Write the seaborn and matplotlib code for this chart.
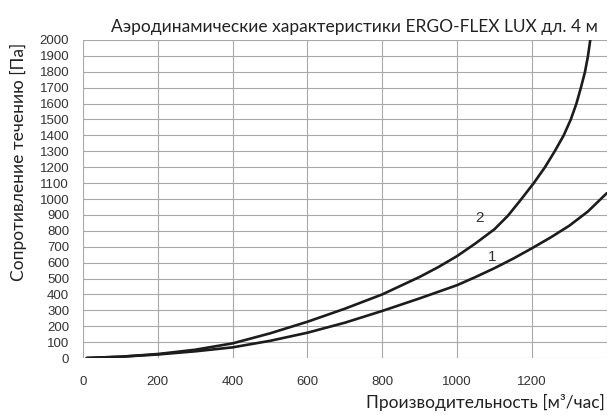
import pandas as pd
import seaborn as sns
import matplotlib.pyplot as plt

# кривая 1
flow_1 = [10, 100, 200, 300, 400, 500, 600, 700, 800, 900, 1000, 1050, 1100, 1150, 1200,
          1250, 1300, 1350, 1400]
res_1 = [0, 8, 22, 42, 67, 108, 159, 222, 296, 375, 458, 510, 565, 625, 690,
         758, 832, 922, 1036]

# кривая 2
flow_2 = [10, 100, 200, 300, 400, 500, 600, 700, 800, 900, 950, 1000, 1050, 1100, 1136,
          1172, 1205, 1235, 1261, 1285, 1304, 1319, 1331, 1342, 1350, 1356, 1362]
res_2 = [0, 8, 25, 52, 92, 155, 228, 310, 400, 510, 572, 641, 722, 810, 895,
         1000, 1100, 1200, 1300, 1400, 1500, 1600, 1700, 1800, 1900, 2000, 2120]

x_ticks = [0, 200, 400, 600, 800, 1000, 1200, 1400]
x_labels = ['0', '200', '400', '600', '800', '1000', '1200', '']
y_ticks = list(range(0, 2001, 100))

df = pd.concat([
    pd.DataFrame({'flow': flow_1, 'res': res_1, 'curve': '1'}),
    pd.DataFrame({'flow': flow_2, 'res': res_2, 'curve': '2'}),
])

sns.set_style('whitegrid')
plt.rcParams['font.family'] = ['Liberation Sans', 'DejaVu Sans']

fig = plt.figure(figsize=(6.07, 4.15), dpi=100)
ax = fig.add_axes([83 / 607, 57 / 415, 523.7 / 607, 318 / 415])

sns.lineplot(data=df, x='flow', y='res', units='curve', estimator=None,
             color='#1c1c1c', linewidth=1.9, ax=ax)
for ln in ax.lines:
    ln.set_solid_joinstyle('round')

ax.set_xlim(0, 1400)
ax.set_ylim(0, 2000)
ax.set_xticks(x_ticks)
ax.set_xticklabels(x_labels)
ax.set_yticks(y_ticks)
ax.grid(True, color='#a8a8a8', linewidth=0.8)
for s in ax.spines.values():
    s.set_visible(False)
ax.tick_params(axis='both', length=3, width=0.8, color='#a8a8a8',
               labelsize=9.5, labelcolor='#333333')
ax.tick_params(axis='y', pad=7)
ax.tick_params(axis='x', pad=10)
ax.set_xlabel('')
ax.set_ylabel('')

ax.text(1060, 880, '2', fontsize=11, color='#333333', ha='center', va='center')
ax.text(1095, 635, '1', fontsize=11, color='#333333', ha='center', va='center')

fig.text(598 / 607, 1 - 27 / 415, 'Аэродинамические характеристики ERGO-FLEX LUX дл. 4 м',
         family=['Lato', 'DejaVu Sans'], fontsize=12.5, color='#222222', ha='right', va='center')
fig.text(605 / 607, 1 - 402 / 415, 'Производительность [м³/час]',
         family=['Lato', 'DejaVu Sans'], fontsize=12.5, color='#222222', ha='right', va='center')
fig.text(18 / 607, 1 - 162 / 415, 'Сопротивление течению [Па]',
         family=['Lato', 'DejaVu Sans'], fontsize=12.5, color='#222222', ha='center', va='center',
         rotation=90)

fig.savefig('out.png', dpi=100)
